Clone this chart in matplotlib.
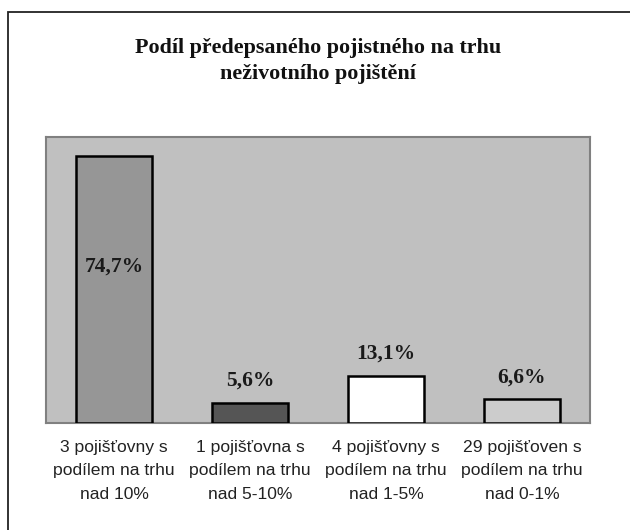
import matplotlib
matplotlib.use("Agg")
import matplotlib.pyplot as plt
from matplotlib.patches import Rectangle

categories = ["3 pojišťovny s\npodílem na trhu\nnad 10%",
              "1 pojišťovna s\npodílem na trhu\nnad 5-10%",
              "4 pojišťovny s\npodílem na trhu\nnad 1-5%",
              "29 pojišťoven s\npodílem na trhu\nnad 0-1%"]
values = [74.7, 5.6, 13.1, 6.6]
value_labels = ["74,7%", "5,6%", "13,1%", "6,6%"]
bar_colors = ["#969696", "#555555", "#ffffff", "#cccccc"]
title = "Podíl předepsaného pojistného na trhu\nneživotního pojištění"

W, H = 630, 530
fig = plt.figure(figsize=(W / 100, H / 100), dpi=100)
fig.patch.set_facecolor("white")

# outer frame (cropped at right and bottom)
fig.patches.append(Rectangle((8 / W, 1 - 12 / H - (H + 10) / H), (W + 10) / W, (H + 10) / H,
                             transform=fig.transFigure, fill=False,
                             edgecolor="#222222", linewidth=1.3, clip_on=False))

left, right, top, bottom = 46, 590, 137, 423
ax = fig.add_axes([left / W, 1 - bottom / H, (right - left) / W, (bottom - top) / H])
ax.set_facecolor("#c0c0c0")
for s in ax.spines.values():
    s.set_color("#808080")
    s.set_linewidth(1.5)

x = range(len(values))
ax.bar(x, values, width=0.56, color=bar_colors, edgecolor="black", linewidth=1.8, zorder=3)
ax.set_xlim(-0.5, len(values) - 0.5)
ax.set_ylim(0, 80)
ax.set_yticks([])
ax.set_xticks(list(x))
ax.set_xticklabels(categories, family="Liberation Sans", fontsize=12.6,
                   color="#222222", linespacing=1.72)
ax.tick_params(axis="x", length=0, pad=12)

for i, (v, lab) in enumerate(zip(values, value_labels)):
    if i == 0:
        ax.text(i, v * 0.585, lab, ha="center", va="center", family="Liberation Serif",
                fontweight="bold", fontsize=15.5, color="#1a1a1a", zorder=4)
    else:
        ax.text(i, v + 6.2, lab, ha="center", va="center", family="Liberation Serif",
                fontweight="bold", fontsize=15.5, color="#1a1a1a", zorder=4)

fig.text((left + right) / 2 / W + 0.0, 1 - 61 / H, title, ha="center", va="center",
         family="Liberation Serif", fontweight="bold", fontsize=15.8, color="#111111",
         linespacing=1.45)

fig.savefig("out.png", dpi=100)
